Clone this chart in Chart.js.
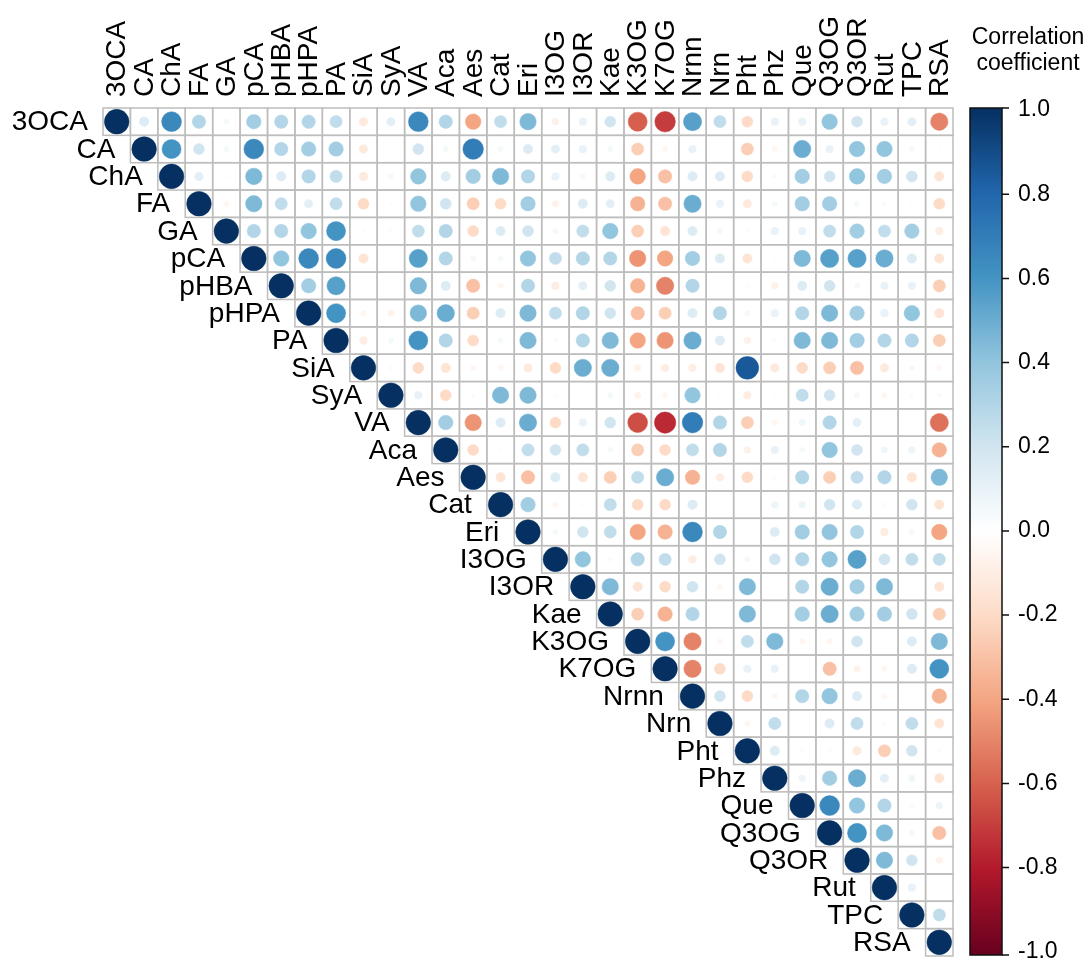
<!DOCTYPE html>
<html><head><meta charset="utf-8">
<script src="https://cdn.jsdelivr.net/npm/chart.js@4.4.1/dist/chart.umd.min.js"></script>
<style>html,body{margin:0;padding:0;background:#fff}#wrap{width:1084px;height:960px;position:relative}</style>
</head><body><div id="wrap"><canvas id="c"></canvas></div>
<script>
// ---- categories ----
const variables = ['3OCA','CA','ChA','FA','GA','pCA','pHBA','pHPA','PA','SiA','SyA','VA','Aca','Aes','Cat','Eri','I3OG','I3OR','Kae','K3OG','K7OG','Nrnn','Nrn','Pht','Phz','Que','Q3OG','Q3OR','Rut','TPC','RSA'];

// ---- upper-triangle correlation values: row i holds columns i..30 ----
const row_3OCA = [1,0.15,0.65,0.3,0.05,0.35,0.3,0.3,0.25,-0.12,0.12,0.65,0.3,-0.4,0.25,0.45,-0.08,0.1,0.2,-0.6,-0.7,0.55,0.25,-0.2,0.1,0.1,0.4,0.2,0.1,0.12,-0.5];
const row_CA   = [1,0.6,0.2,0.05,0.65,0.3,0.35,0.35,-0.12,0,0.2,0.05,0.7,0.05,0.15,0.12,0.1,0.05,-0.25,-0.05,0.1,0,-0.25,-0.05,0.5,0.1,0.4,0.4,0.05,0.02];
const row_ChA  = [1,0.12,0.02,0.45,0.15,0.3,0.25,-0.12,0.05,0.4,0.15,0.35,0.45,0.3,0.1,0.05,0.15,-0.4,-0.3,0.15,0.15,-0.2,0.03,0.35,0.2,0.4,0.35,0.2,-0.15];
const row_FA   = [1,-0.05,0.45,0.25,0.12,0.25,-0.2,-0.02,0.4,0.2,-0.25,-0.2,0.35,-0.07,0.15,0.12,-0.35,-0.3,0.5,0.1,-0.12,0.05,0.35,0.35,0.05,0.03,0.02,-0.2];
const row_GA   = [1,0.3,0.3,0.4,0.6,-0.02,-0.03,0.25,0.3,-0.2,0.15,0.2,0.05,0.25,0.4,-0.25,-0.15,0.15,0.05,-0.03,0.1,0.1,0.25,0.35,0.25,0.35,-0.1];
const row_pCA  = [1,0.4,0.65,0.65,-0.15,0,0.55,0.3,0.05,0.05,0.4,0.25,0.3,0.3,-0.45,-0.4,0.35,0.15,-0.15,0.02,0.45,0.55,0.55,0.5,0.15,-0.15];
const row_pHBA = [1,0.35,0.55,0,0,0.45,0.15,-0.3,-0.05,0.3,-0.1,0.12,0.2,-0.35,-0.5,0.3,0.02,-0.02,-0.08,0.15,0.2,0.05,0.1,0.1,-0.25];
const row_pHPA = [1,0.6,-0.05,-0.07,0.45,0.5,-0.25,0.15,0.45,0.25,0.3,0.2,-0.3,-0.25,0.15,0.3,0.05,0.1,0.3,0.45,0.35,0.1,0.4,-0.15];
const row_PA   = [1,-0.1,0.05,0.6,0.3,-0.2,0.05,0.45,0.03,0.3,0.45,-0.4,-0.45,0.5,0.15,-0.08,-0.03,0.45,0.45,0.35,0.3,0.3,-0.25];
const row_SiA  = [1,-0.03,-0.2,-0.15,-0.05,-0.05,-0.12,-0.2,0.5,0.5,-0.07,-0.1,-0.1,-0.15,0.85,-0.12,-0.2,-0.25,-0.3,-0.12,-0.05,-0.05];
const row_SyA  = [1,0.1,-0.2,-0.03,0.45,0.45,-0.02,0,0.05,-0.07,-0.05,0.4,0.02,-0.1,0.02,0.25,0.2,0.05,-0.05,-0.03,0.03];
const row_VA   = [1,0.35,-0.45,0.15,0.5,-0.2,0.1,0.2,-0.65,-0.75,0.7,0.3,-0.25,-0.05,0.07,0.3,0.12,0,0,-0.55];
const row_Aca  = [1,-0.2,0.02,0.25,0.2,0.25,0.05,-0.25,-0.2,0.25,0.3,-0.08,0.1,0.05,0.4,0.2,0.07,0.08,-0.35];
const row_Aes  = [1,-0.15,-0.3,0.15,-0.15,-0.25,0.25,0.5,-0.35,-0.1,-0.2,-0.03,0.3,-0.25,0.25,0.3,-0.15,0.45];
const row_Cat  = [1,0.35,-0.05,0.02,0.25,-0.2,-0.2,0.15,0,0,0.08,0.08,0.2,0.15,-0.03,0.2,-0.15];
const row_Eri  = [1,0.05,0.2,0.25,-0.4,-0.35,0.65,0.3,0,0.15,0.35,0.4,0.3,-0.1,0.05,-0.4];
const row_I3OG = [1,0.4,0.03,0.3,0.25,-0.1,0.2,0.05,0.2,0.3,0.4,0.55,0.2,0.25,0.25];
const row_I3OR = [1,0.45,-0.15,-0.2,0.2,-0.05,0.45,0,0.3,0.5,0.35,0.45,0,-0.15];
const row_Kae  = [1,-0.25,-0.35,0.3,0,0.45,0,0.35,0.5,0.35,0.35,0.2,-0.25];
const row_K3OG = [1,0.6,-0.5,-0.05,0.25,0.45,-0.05,-0.05,0.2,0,0.15,0.45];
const row_K7OG = [1,-0.5,-0.2,0.1,0.1,0,-0.3,-0.07,-0.05,0.15,0.6];
const row_Nrnn = [1,0.2,-0.2,-0.05,0.3,0.4,0.15,-0.05,0.02,-0.35];
const row_Nrn  = [1,-0.05,0.25,0,0.15,0.25,-0.03,0.25,-0.15];
const row_Pht  = [1,0.15,-0.03,-0.03,-0.12,-0.25,0.2,0.03];
const row_Phz  = [1,0.08,0.35,0.5,0.12,0.07,-0.15];
const row_Que  = [1,0.65,0.4,0.3,0.03,0.08];
const row_Q3OG = [1,0.6,0.45,0.05,-0.3];
const row_Q3OR = [1,0.45,0.2,-0.07];
const row_Rut  = [1,0.1,0.02];
const row_TPC  = [1,0.25];
const row_RSA  = [1];

const upperRows = [row_3OCA,row_CA,row_ChA,row_FA,row_GA,row_pCA,row_pHBA,row_pHPA,row_PA,row_SiA,row_SyA,row_VA,row_Aca,row_Aes,row_Cat,row_Eri,row_I3OG,row_I3OR,row_Kae,row_K3OG,row_K7OG,row_Nrnn,row_Nrn,row_Pht,row_Phz,row_Que,row_Q3OG,row_Q3OR,row_Rut,row_TPC,row_RSA];

// ---- colour bar tick labels and title ----
const colorbarTicks = [-1.0,-0.8,-0.6,-0.4,-0.2,0.0,0.2,0.4,0.6,0.8,1.0];
const colorbarTitle = ['Correlation','coefficient'];

// ---- palette (RdBu), from -1 to 1 ----
const palette = ['#67001F','#B2182B','#D6604D','#F4A582','#FDDBC7','#FFFFFF','#D1E5F0','#92C5DE','#4393C3','#2166AC','#053061'];

function hex2rgb(h){return [parseInt(h.slice(1,3),16),parseInt(h.slice(3,5),16),parseInt(h.slice(5,7),16)];}
function colorFor(v){
  const t = (Math.max(-1,Math.min(1,v))+1)/2*(palette.length-1);
  const i = Math.min(palette.length-2, Math.floor(t));
  const f = t-i;
  const a = hex2rgb(palette[i]), b = hex2rgb(palette[i+1]);
  const c = a.map((x,k)=>Math.round(x+(b[k]-x)*f));
  return 'rgb('+c.join(',')+')';
}

const points = [];
upperRows.forEach((row,i)=>row.forEach((v,k)=>points.push({x:i+k,y:i,v:v})));

const FONT = '"Liberation Sans", Arial, Helvetica, sans-serif';

function cellSize(chart){
  const xs = chart.scales.x, ys = chart.scales.y;
  return Math.min(Math.abs(xs.getPixelForValue(1)-xs.getPixelForValue(0)), Math.abs(ys.getPixelForValue(1)-ys.getPixelForValue(0)));
}

const corrPlugin = {
  id:'corr',
  beforeDatasetsDraw(chart){
    const ctx = chart.ctx, xs = chart.scales.x, ys = chart.scales.y;
    ctx.save();
    ctx.strokeStyle = '#bdbdbd';
    ctx.lineWidth = 1.5;
    points.forEach(p=>{
      const l = xs.getPixelForValue(p.x-0.5), r = xs.getPixelForValue(p.x+0.5);
      const t = ys.getPixelForValue(p.y-0.5), b = ys.getPixelForValue(p.y+0.5);
      ctx.strokeRect(l,t,r-l,b-t);
    });
    ctx.restore();
  },
  afterDraw(chart){
    const ctx = chart.ctx, xs = chart.scales.x, ys = chart.scales.y, cb = chart.scales.y2;
    const area = chart.chartArea;
    ctx.save();
    ctx.fillStyle = '#000';
    ctx.font = '28px ' + FONT;
    // row labels next to the diagonal
    ctx.textAlign = 'right'; ctx.textBaseline = 'middle';
    variables.forEach((name,i)=>{
      const x = xs.getPixelForValue(i-0.5) - 15;
      const y = ys.getPixelForValue(i) + 1;
      ctx.fillText(name,x,y);
    });
    // column labels on top, rotated
    ctx.textAlign = 'left';
    variables.forEach((name,i)=>{
      const x = xs.getPixelForValue(i);
      ctx.save();
      ctx.translate(x+1, area.top - 11);
      ctx.rotate(-Math.PI/2);
      ctx.fillText(name,0,0);
      ctx.restore();
    });
    // colour bar
    const x0 = area.right + 17, w = 32;
    const top = area.top, bot = area.bottom - 1;
    const g = ctx.createLinearGradient(0,bot,0,top);
    palette.forEach((c,k)=>g.addColorStop(k/(palette.length-1),c));
    ctx.fillStyle = g;
    ctx.fillRect(x0,top,w,bot-top);
    ctx.strokeStyle = '#111'; ctx.lineWidth = 1.5;
    ctx.strokeRect(x0,top,w,bot-top);
    ctx.beginPath();
    cb.ticks.forEach(t=>{
      let y = cb.getPixelForValue(t.value);
      if (t.value >= 1) y = top; if (t.value <= -1) y = bot;
      ctx.moveTo(x0+w,y); ctx.lineTo(x0+w+7,y);
    });
    ctx.stroke();
    // colour bar title
    ctx.fillStyle = '#000';
    ctx.font = '23px ' + FONT;
    ctx.textAlign = 'center'; ctx.textBaseline = 'middle';
    colorbarTitle.forEach((s,k)=>ctx.fillText(s, 1028, 38 + k*26));
    ctx.restore();
  }
};

new Chart(document.getElementById('c'),{
  type:'scatter',
  data:{datasets:[{
    data: points,
    pointRadius: c => { const p = c.raw; return p ? 0.45*cellSize(c.chart)*Math.sqrt(Math.abs(p.v)) : 0; },
    pointHoverRadius: c => { const p = c.raw; return p ? 0.45*cellSize(c.chart)*Math.sqrt(Math.abs(p.v)) : 0; },
    backgroundColor: c => c.raw ? colorFor(c.raw.v) : '#fff',
    borderColor: c => c.raw ? colorFor(c.raw.v) : '#fff',
    borderWidth: 0.5
  }]},
  options:{
    responsive:true, maintainAspectRatio:false, animation:false,
    events:[],
    layout:{padding:{left:103, top:108, right:0, bottom:4}},
    plugins:{legend:{display:false}, tooltip:{enabled:false}},
    scales:{
      x:{type:'linear', min:-0.5, max:30.5, display:false},
      y:{type:'linear', min:-0.5, max:30.5, reverse:true, display:false},
      y2:{type:'linear', position:'right', min:-1.01, max:1.005, display:true,
        grid:{display:false, drawTicks:false, drawOnChartArea:false},
        border:{display:false},
        afterBuildTicks: s => { s.ticks = colorbarTicks.map(v=>({value:v})); },
        afterFit: s => { s.width = 131; s.paddingTop = 0; s.paddingBottom = 0; },
        ticks:{padding:65, color:'#000', font:{size:23, family:FONT},
          callback: v => (Math.abs(v)<1e-9 ? 0 : v).toFixed(1)}
      }
    }
  },
  plugins:[corrPlugin]
});
</script>
</body></html>
